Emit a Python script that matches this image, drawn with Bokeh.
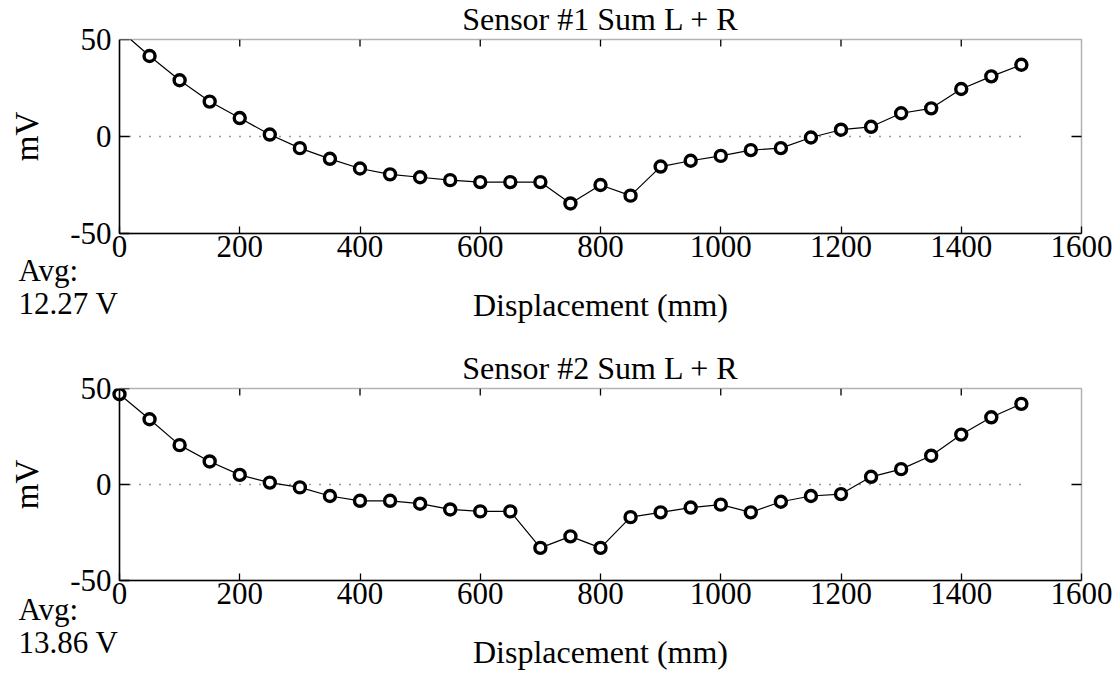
from bokeh.plotting import figure
from bokeh.models import FixedTicker, Range1d, Label, BoxAnnotation
from bokeh.layouts import column
from bokeh.embed import file_html
from bokeh.resources import INLINE

# ---- data ----
displacement_mm = [0, 50, 100, 150, 200, 250, 300, 350, 400, 450, 500, 550, 600, 650, 700,
                   750, 800, 850, 900, 950, 1000, 1050, 1100, 1150, 1200, 1250, 1300, 1350,
                   1400, 1450, 1500]
sensor1_mV = [55, 41.5, 29, 18, 9.5, 1, -6, -11.5, -16.5, -19.5, -21, -22.5, -23.5, -23.5, -23.5,
              -34.5, -25, -30.5, -15.5, -12.5, -10, -7, -6, -0.5, 3.5, 5, 12, 14.5,
              24.5, 31, 37]
sensor2_mV = [47, 34, 20.5, 12, 5, 1, -1.5, -6, -8.5, -8.5, -10, -13, -14, -14, -33,
              -27, -33, -17, -14.5, -12, -10.5, -14.5, -9, -6, -5, 4, 8, 15,
              26, 35, 42]
titles = ["Sensor #1 Sum L + R", "Sensor #2 Sum L + R"]
avg_texts = ["12.27 V", "13.86 V"]
x_ticks = [0, 200, 400, 600, 800, 1000, 1200, 1400, 1600]
y_ticks = [-50, 0, 50]

FONT = "Liberation Serif"
FS = "31px"
W = 1120
BOX_LEFT, BOX_RIGHT = 119, 1081   # pixel edges of the axes box
TEXT_SHIFT = 11                   # label anchor sits this far above the drawn baseline


def make_panel(values, title, avg, height, box_top, box_bottom, avg_below):
    kx = (BOX_RIGHT - BOX_LEFT) / (x_ticks[-1] - x_ticks[0])
    ky = (box_bottom - box_top) / (y_ticks[-1] - y_ticks[0])
    x_range = Range1d(x_ticks[0] - BOX_LEFT / kx, x_ticks[-1] + (W - BOX_RIGHT) / kx)
    y_range = Range1d(y_ticks[0] - (height - box_bottom) / ky, y_ticks[-1] + box_top / ky)

    p = figure(width=W, height=height, x_range=x_range, y_range=y_range,
               output_backend="svg", toolbar_location=None, min_border=0)
    p.xgrid.visible = False
    p.ygrid.visible = False
    p.outline_line_color = None
    p.background_fill_color = "white"
    p.border_fill_color = "white"

    xa = p.xaxis[0]
    xa.fixed_location = y_ticks[0]
    xa.bounds = (x_ticks[0], x_ticks[-1])
    xa.ticker = FixedTicker(ticks=x_ticks)
    xa.major_tick_in = 7
    xa.major_tick_out = 0
    xa.minor_tick_in = 0
    xa.minor_tick_out = 0
    xa.axis_line_color = "black"
    xa.axis_line_width = 1.5
    xa.major_tick_line_width = 1.3
    xa.major_label_text_font = FONT
    xa.major_label_text_font_size = FS
    xa.major_label_text_color = "black"
    xa.major_label_standoff = 2
    xa.axis_label = "Displacement (mm)"
    xa.axis_label_text_font = FONT
    xa.axis_label_text_font_size = "32px"
    xa.axis_label_text_font_style = "normal"
    xa.axis_label_text_color = "black"
    xa.axis_label_standoff = 27

    ya = p.yaxis[0]
    ya.fixed_location = x_ticks[0]
    ya.bounds = (y_ticks[0], y_ticks[-1])
    ya.ticker = FixedTicker(ticks=y_ticks)
    ya.major_label_overrides = {t: str(t) for t in y_ticks}
    ya.major_tick_in = 10
    ya.major_tick_out = 0
    ya.minor_tick_in = 0
    ya.minor_tick_out = 0
    ya.axis_line_color = "black"
    ya.axis_line_width = 1.5
    ya.major_tick_line_width = 1.3
    ya.major_label_text_font = FONT
    ya.major_label_text_font_size = FS
    ya.major_label_text_color = "black"
    ya.major_label_standoff = 8
    ya.axis_label = "mV"
    ya.axis_label_text_font = FONT
    ya.axis_label_text_font_size = "33px"
    ya.axis_label_text_font_style = "normal"
    ya.axis_label_text_color = "black"
    ya.axis_label_standoff = 22

    # inward tick marks on the top and right edges of the box
    inner_x = x_ticks[1:-1]
    p.segment(x0=inner_x, y0=[y_ticks[-1]] * len(inner_x),
              x1=inner_x, y1=[y_ticks[-1] - 7 / ky] * len(inner_x),
              line_color="black", line_width=1.3)
    p.segment(x0=[x_ticks[-1]], y0=[y_ticks[1]], x1=[x_ticks[-1] - 10 / kx], y1=[y_ticks[1]],
              line_color="black", line_width=1.3)

    # dotted zero reference across the measured span
    p.line([displacement_mm[0], displacement_mm[-1]], [0, 0], line_color="black",
           line_alpha=0.8, line_width=1.4, line_dash="1 9")

    p.line(displacement_mm, values, line_color="black", line_width=1.2)
    p.scatter(displacement_mm, values, marker="circle", size=11, line_color="black",
              line_width=3.4, fill_color="white")

    # values above the upper limit are clipped at the box edge
    p.add_layout(BoxAnnotation(left=x_ticks[0] - 8 / kx, right=x_ticks[-1], bottom=y_ticks[-1],
                               fill_color="white", fill_alpha=1.0, line_color=None))
    # the axes box
    p.add_layout(BoxAnnotation(left=x_ticks[0], right=x_ticks[-1],
                               bottom=y_ticks[0], top=y_ticks[-1],
                               fill_alpha=0.0, line_color="black", line_width=1.5))

    mid_x = (x_ticks[0] + x_ticks[-1]) / 2
    p.add_layout(Label(x=mid_x, y=y_ticks[-1] + (10 + TEXT_SHIFT) / ky, text=title,
                       text_align="center", text_baseline="alphabetic",
                       text_font=FONT, text_font_size="32px", text_color="black"))
    common = dict(text_align="left", text_baseline="alphabetic",
                  text_font=FONT, text_font_size=FS, text_color="black")
    note_x = x_ticks[0] - (BOX_LEFT - 18) / kx
    p.add_layout(Label(x=note_x, y=y_ticks[0] - (avg_below[0] - TEXT_SHIFT) / ky,
                       text="Avg:", **common))
    p.add_layout(Label(x=note_x, y=y_ticks[0] - (avg_below[1] - TEXT_SHIFT) / ky,
                       text=avg, **common))
    return p


p1 = make_panel(sensor1_mV, titles[0], avg_texts[0], 342, 39, 233, (48, 81))
p2 = make_panel(sensor2_mV, titles[1], avg_texts[1], 341, 46, 238, (40, 73))

layout = column(p1, p2, spacing=0)
open("out.html", "w").write(file_html(layout, INLINE))
